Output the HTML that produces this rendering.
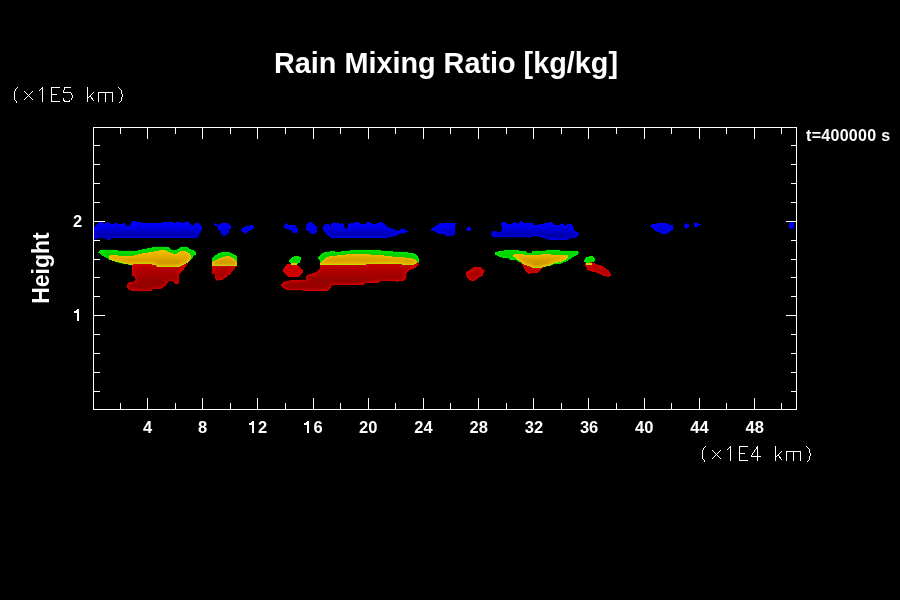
<!DOCTYPE html>
<html><head><meta charset="utf-8">
<style>
html,body{margin:0;padding:0;background:#000;width:900px;height:600px;overflow:hidden}
svg{position:absolute;left:0;top:0;will-change:transform}
.t{font-family:"Liberation Sans",sans-serif;font-weight:bold;fill:#fff}
</style></head><body>
<svg width="900" height="600" viewBox="0 0 900 600">
<rect width="900" height="600" fill="#000"/>
<g id="data">
<defs>
<filter id="inner" x="-20%" y="-50%" width="140%" height="200%"><feMorphology operator="erode" radius="1" in="SourceGraphic"/><feGaussianBlur stdDeviation="1.6"/></filter>
<linearGradient id="bg" gradientUnits="userSpaceOnUse" x1="0" y1="222" x2="0" y2="238"><stop offset="0" stop-color="#0000c0" stop-opacity="0"/><stop offset="0.85" stop-color="#00009c" stop-opacity="1"/></linearGradient>
<linearGradient id="rg" gradientUnits="userSpaceOnUse" x1="0" y1="263" x2="0" y2="286"><stop offset="0" stop-color="#a00000" stop-opacity="0.45"/><stop offset="0.7" stop-color="#960000" stop-opacity="1"/></linearGradient>
<linearGradient id="yg" gradientUnits="userSpaceOnUse" x1="0" y1="250" x2="0" y2="266"><stop offset="0" stop-color="#c89400" stop-opacity="0"/><stop offset="0.8" stop-color="#c08c00" stop-opacity="0.85"/></linearGradient>
</defs>
<path fill="#0000ff" shape-rendering="crispEdges" d="M94.0 227.0 L96.3 225.0 L99.7 222.3 L103.0 222.0 L104.3 223.7 L107.0 222.3 L109.0 222.3 L111.0 224.0 L115.0 223.3 L122.3 224.0 L123.7 222.3 L125.7 224.0 L126.3 226.0 L129.7 226.0 L131.7 222.0 L133.0 221.0 L135.7 221.0 L137.0 222.3 L141.7 222.3 L143.7 223.0 L162.0 223.0 L162.3 222.0 L170.0 222.0 L171.0 221.0 L172.0 222.0 L175.3 223.0 L177.3 222.0 L180.7 222.0 L182.0 223.0 L186.0 222.0 L187.3 221.0 L188.7 222.7 L190.7 224.3 L193.7 226.0 L194.7 223.7 L196.7 223.0 L199.3 223.7 L201.7 226.3 L201.7 229.0 L200.7 232.0 L199.3 233.3 L198.7 235.7 L196.0 238.0 L111.7 238.0 L109.7 239.8 L107.3 239.8 L106.3 238.0 L94.0 238.7Z M214.1 224.4 L215.5 223.0 L216.9 224.9 L219.9 224.4 L222.2 223.0 L227.7 223.0 L229.4 224.9 L230.8 225.2 L230.8 228.6 L228.8 229.1 L228.6 233.0 L226.6 235.2 L223.6 235.8 L221.3 233.6 L221.3 231.9 L218.3 229.7 L218.3 226.9 L214.9 225.8Z M241.1 229.7 L243.0 227.4 L245.2 226.1 L253.0 225.2 L254.9 226.9 L253.3 228.8 L249.1 230.8 L245.8 233.8 L243.6 232.4 L241.3 230.8Z M284.0 226.4 L285.1 224.4 L286.4 222.9 L287.3 224.2 L288.9 224.9 L294.7 225.1 L296.2 226.7 L298.0 228.4 L298.0 231.3 L296.7 232.9 L293.3 232.9 L290.4 230.4 L288.9 229.1 L285.1 228.9Z M306.0 225.1 L308.0 223.1 L310.2 222.0 L312.0 222.2 L314.2 224.9 L316.9 226.2 L316.9 231.8 L314.7 233.8 L311.6 233.8 L308.9 231.8 L306.7 230.0 L306.0 228.7Z M323.0 226.3 L324.1 225.2 L326.3 224.1 L329.1 224.4 L330.5 226.9 L331.3 224.1 L333.3 222.2 L336.3 223.3 L340.8 223.6 L341.9 223.0 L343.6 224.1 L344.1 227.4 L346.3 229.1 L348.0 228.0 L348.6 223.6 L354.7 223.0 L355.8 222.2 L359.1 222.2 L359.7 223.6 L365.8 223.6 L367.8 222.2 L370.0 222.4 L372.2 223.8 L377.2 223.6 L379.4 222.2 L382.2 222.4 L384.4 224.1 L388.3 227.4 L391.7 228.8 L395.0 229.9 L398.9 231.3 L400.0 229.7 L402.2 228.3 L404.4 229.4 L407.8 231.3 L406.1 232.7 L403.9 233.8 L401.7 233.0 L398.9 234.1 L396.7 235.8 L386.1 237.6 L331.3 237.6 L327.4 234.7 L325.2 233.0 L323.0 228.6Z M431.1 229.4 L433.6 227.2 L435.8 225.8 L438.3 224.1 L440.5 223.0 L443.0 223.0 L443.6 223.8 L444.4 223.0 L455.8 223.0 L455.8 224.7 L454.9 225.5 L454.9 233.6 L453.0 235.8 L446.3 235.8 L444.7 233.8 L438.3 233.6 L436.9 231.9 L434.1 231.3 L431.3 230.5Z M466.1 229.4 L468.6 226.1 L471.1 228.0 L470.2 230.5 L467.4 231.1Z M491.1 234.3 L491.9 232.4 L493.6 231.0 L496.3 231.3 L498.6 232.7 L500.5 232.1 L501.9 231.0 L501.3 223.5 L502.4 222.1 L505.2 222.1 L507.4 223.5 L511.9 223.8 L513.6 222.7 L515.8 222.1 L518.6 224.1 L520.2 221.3 L521.9 221.3 L523.6 222.7 L533.0 222.9 L535.0 225.2 L541.1 224.1 L547.2 222.9 L551.1 221.8 L553.9 224.6 L560.0 224.6 L562.5 222.9 L565.3 226.0 L567.2 224.1 L571.1 224.1 L573.3 226.0 L573.9 230.7 L576.1 231.3 L578.9 233.5 L578.9 235.2 L576.1 237.4 L569.4 237.9 L567.8 239.6 L548.3 239.6 L544.4 238.2 L540.6 237.1 L535.8 236.0 L533.6 236.3 L531.9 237.4 L493.0 237.4Z M650.0 225.7 L652.7 224.3 L658.0 223.3 L666.0 223.3 L670.0 224.7 L674.0 225.3 L673.3 226.7 L673.0 229.3 L669.3 232.0 L666.7 233.7 L661.3 233.7 L659.3 232.0 L656.0 231.3 L652.0 228.0Z M684.0 225.3 L686.0 223.0 L688.7 224.0 L689.0 227.0 L686.3 228.7 L684.3 227.0Z M694.0 223.3 L698.0 223.3 L698.7 224.3 L701.0 224.3 L701.0 225.0 L698.7 225.7 L698.0 226.7 L694.0 226.7Z M789.0 223.3 L790.0 222.0 L793.0 222.0 L794.0 224.0 L794.0 226.7 L792.7 228.8 L790.0 228.8 L789.0 227.3Z"/>
<path fill="url(#bg)" filter="url(#inner)" d="M94.0 227.0 L96.3 225.0 L99.7 222.3 L103.0 222.0 L104.3 223.7 L107.0 222.3 L109.0 222.3 L111.0 224.0 L115.0 223.3 L122.3 224.0 L123.7 222.3 L125.7 224.0 L126.3 226.0 L129.7 226.0 L131.7 222.0 L133.0 221.0 L135.7 221.0 L137.0 222.3 L141.7 222.3 L143.7 223.0 L162.0 223.0 L162.3 222.0 L170.0 222.0 L171.0 221.0 L172.0 222.0 L175.3 223.0 L177.3 222.0 L180.7 222.0 L182.0 223.0 L186.0 222.0 L187.3 221.0 L188.7 222.7 L190.7 224.3 L193.7 226.0 L194.7 223.7 L196.7 223.0 L199.3 223.7 L201.7 226.3 L201.7 229.0 L200.7 232.0 L199.3 233.3 L198.7 235.7 L196.0 238.0 L111.7 238.0 L109.7 239.8 L107.3 239.8 L106.3 238.0 L94.0 238.7Z M214.1 224.4 L215.5 223.0 L216.9 224.9 L219.9 224.4 L222.2 223.0 L227.7 223.0 L229.4 224.9 L230.8 225.2 L230.8 228.6 L228.8 229.1 L228.6 233.0 L226.6 235.2 L223.6 235.8 L221.3 233.6 L221.3 231.9 L218.3 229.7 L218.3 226.9 L214.9 225.8Z M241.1 229.7 L243.0 227.4 L245.2 226.1 L253.0 225.2 L254.9 226.9 L253.3 228.8 L249.1 230.8 L245.8 233.8 L243.6 232.4 L241.3 230.8Z M284.0 226.4 L285.1 224.4 L286.4 222.9 L287.3 224.2 L288.9 224.9 L294.7 225.1 L296.2 226.7 L298.0 228.4 L298.0 231.3 L296.7 232.9 L293.3 232.9 L290.4 230.4 L288.9 229.1 L285.1 228.9Z M306.0 225.1 L308.0 223.1 L310.2 222.0 L312.0 222.2 L314.2 224.9 L316.9 226.2 L316.9 231.8 L314.7 233.8 L311.6 233.8 L308.9 231.8 L306.7 230.0 L306.0 228.7Z M323.0 226.3 L324.1 225.2 L326.3 224.1 L329.1 224.4 L330.5 226.9 L331.3 224.1 L333.3 222.2 L336.3 223.3 L340.8 223.6 L341.9 223.0 L343.6 224.1 L344.1 227.4 L346.3 229.1 L348.0 228.0 L348.6 223.6 L354.7 223.0 L355.8 222.2 L359.1 222.2 L359.7 223.6 L365.8 223.6 L367.8 222.2 L370.0 222.4 L372.2 223.8 L377.2 223.6 L379.4 222.2 L382.2 222.4 L384.4 224.1 L388.3 227.4 L391.7 228.8 L395.0 229.9 L398.9 231.3 L400.0 229.7 L402.2 228.3 L404.4 229.4 L407.8 231.3 L406.1 232.7 L403.9 233.8 L401.7 233.0 L398.9 234.1 L396.7 235.8 L386.1 237.6 L331.3 237.6 L327.4 234.7 L325.2 233.0 L323.0 228.6Z M431.1 229.4 L433.6 227.2 L435.8 225.8 L438.3 224.1 L440.5 223.0 L443.0 223.0 L443.6 223.8 L444.4 223.0 L455.8 223.0 L455.8 224.7 L454.9 225.5 L454.9 233.6 L453.0 235.8 L446.3 235.8 L444.7 233.8 L438.3 233.6 L436.9 231.9 L434.1 231.3 L431.3 230.5Z M466.1 229.4 L468.6 226.1 L471.1 228.0 L470.2 230.5 L467.4 231.1Z M491.1 234.3 L491.9 232.4 L493.6 231.0 L496.3 231.3 L498.6 232.7 L500.5 232.1 L501.9 231.0 L501.3 223.5 L502.4 222.1 L505.2 222.1 L507.4 223.5 L511.9 223.8 L513.6 222.7 L515.8 222.1 L518.6 224.1 L520.2 221.3 L521.9 221.3 L523.6 222.7 L533.0 222.9 L535.0 225.2 L541.1 224.1 L547.2 222.9 L551.1 221.8 L553.9 224.6 L560.0 224.6 L562.5 222.9 L565.3 226.0 L567.2 224.1 L571.1 224.1 L573.3 226.0 L573.9 230.7 L576.1 231.3 L578.9 233.5 L578.9 235.2 L576.1 237.4 L569.4 237.9 L567.8 239.6 L548.3 239.6 L544.4 238.2 L540.6 237.1 L535.8 236.0 L533.6 236.3 L531.9 237.4 L493.0 237.4Z M650.0 225.7 L652.7 224.3 L658.0 223.3 L666.0 223.3 L670.0 224.7 L674.0 225.3 L673.3 226.7 L673.0 229.3 L669.3 232.0 L666.7 233.7 L661.3 233.7 L659.3 232.0 L656.0 231.3 L652.0 228.0Z M684.0 225.3 L686.0 223.0 L688.7 224.0 L689.0 227.0 L686.3 228.7 L684.3 227.0Z M694.0 223.3 L698.0 223.3 L698.7 224.3 L701.0 224.3 L701.0 225.0 L698.7 225.7 L698.0 226.7 L694.0 226.7Z M789.0 223.3 L790.0 222.0 L793.0 222.0 L794.0 224.0 L794.0 226.7 L792.7 228.8 L790.0 228.8 L789.0 227.3Z"/>
<path fill="#00f000" shape-rendering="crispEdges" d="M98.0 252.3 L100.0 250.0 L117.7 250.0 L118.3 251.0 L137.7 251.0 L139.0 250.0 L143.0 249.3 L149.0 248.0 L154.0 247.0 L168.0 247.0 L170.0 248.3 L172.0 250.0 L176.7 250.0 L180.0 247.7 L181.3 247.0 L186.7 247.0 L190.0 249.0 L193.3 250.3 L196.0 252.7 L196.0 254.3 L193.3 256.0 L192.0 258.7 L189.3 260.7 L187.3 262.0 L183.3 264.0 L155.0 264.0 L132.0 264.7 L129.7 264.7 L123.0 263.7 L115.0 261.7 L109.7 259.7 L106.3 257.7 L102.3 255.7Z M212.3 258.2 L215.6 255.2 L218.9 253.1 L223.4 251.9 L228.8 251.9 L231.2 253.1 L234.2 254.3 L236.9 256.1 L236.9 264.8 L212.3 264.8Z M289.1 260.6 L291.2 258.3 L294.0 256.2 L298.7 256.0 L300.8 257.4 L300.8 259.7 L299.6 262.7 L297.3 263.9 L291.2 263.9 L289.3 261.8Z M317.9 257.8 L322.1 253.0 L325.1 252.1 L333.2 251.2 L336.8 251.8 L345.2 251.2 L353.0 250.0 L377.7 250.2 L388.7 251.3 L405.6 252.1 L412.9 253.2 L416.6 255.0 L418.8 258.3 L418.8 263.0 L320.0 263.5 L320.0 260.2 L317.9 258.4Z M494.8 252.5 L499.1 251.1 L507.3 250.2 L518.6 250.2 L520.3 251.4 L526.0 251.4 L526.6 252.5 L531.7 252.5 L532.2 251.1 L545.9 251.1 L546.2 250.0 L559.8 250.0 L560.4 251.1 L577.1 251.1 L578.8 252.5 L577.7 254.8 L574.3 256.2 L571.4 258.2 L566.9 261.0 L560.7 263.6 L553.3 264.4 L549.9 265.8 L543.7 266.4 L542.0 267.2 L534.0 267.8 L528.8 265.5 L523.2 263.6 L520.9 262.1 L518.6 261.6 L516.4 259.9 L509.6 259.6 L508.4 258.2 L500.5 257.3 L497.7 255.9 L494.8 254.5Z M584.0 260.6 L585.6 257.8 L589.3 256.2 L593.1 256.4 L594.9 257.8 L594.9 260.4 L593.5 261.8 L590.7 262.7 L586.1 262.7 L584.4 261.6Z"/>
<path fill="#00c800" opacity="0.8" filter="url(#inner)" d="M98.0 252.3 L100.0 250.0 L117.7 250.0 L118.3 251.0 L137.7 251.0 L139.0 250.0 L143.0 249.3 L149.0 248.0 L154.0 247.0 L168.0 247.0 L170.0 248.3 L172.0 250.0 L176.7 250.0 L180.0 247.7 L181.3 247.0 L186.7 247.0 L190.0 249.0 L193.3 250.3 L196.0 252.7 L196.0 254.3 L193.3 256.0 L192.0 258.7 L189.3 260.7 L187.3 262.0 L183.3 264.0 L155.0 264.0 L132.0 264.7 L129.7 264.7 L123.0 263.7 L115.0 261.7 L109.7 259.7 L106.3 257.7 L102.3 255.7Z M212.3 258.2 L215.6 255.2 L218.9 253.1 L223.4 251.9 L228.8 251.9 L231.2 253.1 L234.2 254.3 L236.9 256.1 L236.9 264.8 L212.3 264.8Z M289.1 260.6 L291.2 258.3 L294.0 256.2 L298.7 256.0 L300.8 257.4 L300.8 259.7 L299.6 262.7 L297.3 263.9 L291.2 263.9 L289.3 261.8Z M317.9 257.8 L322.1 253.0 L325.1 252.1 L333.2 251.2 L336.8 251.8 L345.2 251.2 L353.0 250.0 L377.7 250.2 L388.7 251.3 L405.6 252.1 L412.9 253.2 L416.6 255.0 L418.8 258.3 L418.8 263.0 L320.0 263.5 L320.0 260.2 L317.9 258.4Z M494.8 252.5 L499.1 251.1 L507.3 250.2 L518.6 250.2 L520.3 251.4 L526.0 251.4 L526.6 252.5 L531.7 252.5 L532.2 251.1 L545.9 251.1 L546.2 250.0 L559.8 250.0 L560.4 251.1 L577.1 251.1 L578.8 252.5 L577.7 254.8 L574.3 256.2 L571.4 258.2 L566.9 261.0 L560.7 263.6 L553.3 264.4 L549.9 265.8 L543.7 266.4 L542.0 267.2 L534.0 267.8 L528.8 265.5 L523.2 263.6 L520.9 262.1 L518.6 261.6 L516.4 259.9 L509.6 259.6 L508.4 258.2 L500.5 257.3 L497.7 255.9 L494.8 254.5Z M584.0 260.6 L585.6 257.8 L589.3 256.2 L593.1 256.4 L594.9 257.8 L594.9 260.4 L593.5 261.8 L590.7 262.7 L586.1 262.7 L584.4 261.6Z"/>
<path fill="#e00000" shape-rendering="crispEdges" d="M132.4 263.9 L155.0 263.5 L157.0 265.6 L179.3 265.6 L183.5 264.0 L187.2 263.9 L189.5 260.8 L184.9 267.8 L181.8 271.7 L179.0 274.8 L178.7 283.3 L176.3 284.1 L174.0 282.9 L172.4 281.0 L168.5 281.0 L167.8 282.9 L165.4 285.7 L162.3 288.4 L152.2 289.2 L151.4 291.1 L139.0 291.5 L129.7 290.3 L127.3 288.0 L127.3 284.1 L129.7 282.2 L134.3 281.4 L135.9 279.8 L135.1 277.1 L132.4 275.6Z M212.3 264.8 L236.9 265.1 L235.4 267.2 L234.2 269.0 L231.8 272.0 L230.0 274.4 L225.8 277.4 L222.2 279.8 L217.4 280.7 L215.3 279.2 L215.0 274.4 L212.3 273.8Z M284.2 266.9 L285.6 265.5 L288.4 263.9 L295.9 263.9 L298.7 266.0 L301.9 269.3 L302.9 270.7 L302.9 273.0 L300.5 274.9 L298.7 276.5 L288.4 276.5 L286.1 274.9 L283.3 271.6 L283.3 270.2Z M320.0 263.3 L418.1 262.0 L418.8 264.9 L415.9 267.5 L410.0 270.0 L407.8 271.9 L406.0 274.8 L406.0 278.5 L403.4 280.7 L398.3 281.4 L396.8 282.5 L395.0 281.0 L379.9 281.0 L378.8 282.5 L366.0 283.0 L364.0 284.7 L332.0 285.0 L330.7 287.3 L328.0 290.7 L288.7 290.4 L284.2 288.7 L281.1 286.0 L281.6 283.8 L286.0 280.7 L306.0 279.8 L306.4 276.2 L309.1 274.4 L313.6 273.1 L317.1 271.3 L320.2 268.7Z M466.0 272.3 L467.9 271.0 L471.9 268.4 L474.1 267.1 L480.0 267.1 L482.5 268.8 L484.9 270.6 L483.6 272.6 L482.9 275.6 L479.6 277.4 L476.7 279.2 L474.5 280.7 L470.8 280.5 L468.2 278.5 L466.0 275.6Z M520.9 262.1 L523.2 263.6 L528.8 265.5 L533.4 267.8 L542.0 267.2 L544.8 266.4 L541.4 268.9 L540.2 270.6 L538.5 272.3 L536.2 272.9 L531.1 272.9 L528.8 274.6 L526.0 271.8 L524.3 268.9 L521.5 263.3Z M585.1 263.2 L591.7 262.3 L594.0 263.2 L596.3 264.4 L600.1 265.3 L603.3 266.9 L606.1 268.8 L608.9 270.7 L610.3 273.5 L611.7 275.3 L608.9 276.7 L605.2 276.3 L601.0 274.4 L598.2 273.2 L594.0 272.1 L589.8 270.7 L587.0 269.3 L585.1 265.5Z"/>
<path fill="url(#rg)" filter="url(#inner)" d="M132.4 263.9 L155.0 263.5 L157.0 265.6 L179.3 265.6 L183.5 264.0 L187.2 263.9 L189.5 260.8 L184.9 267.8 L181.8 271.7 L179.0 274.8 L178.7 283.3 L176.3 284.1 L174.0 282.9 L172.4 281.0 L168.5 281.0 L167.8 282.9 L165.4 285.7 L162.3 288.4 L152.2 289.2 L151.4 291.1 L139.0 291.5 L129.7 290.3 L127.3 288.0 L127.3 284.1 L129.7 282.2 L134.3 281.4 L135.9 279.8 L135.1 277.1 L132.4 275.6Z M212.3 264.8 L236.9 265.1 L235.4 267.2 L234.2 269.0 L231.8 272.0 L230.0 274.4 L225.8 277.4 L222.2 279.8 L217.4 280.7 L215.3 279.2 L215.0 274.4 L212.3 273.8Z M320.0 263.3 L418.1 262.0 L418.8 264.9 L415.9 267.5 L410.0 270.0 L407.8 271.9 L406.0 274.8 L406.0 278.5 L403.4 280.7 L398.3 281.4 L396.8 282.5 L395.0 281.0 L379.9 281.0 L378.8 282.5 L366.0 283.0 L364.0 284.7 L332.0 285.0 L330.7 287.3 L328.0 290.7 L288.7 290.4 L284.2 288.7 L281.1 286.0 L281.6 283.8 L286.0 280.7 L306.0 279.8 L306.4 276.2 L309.1 274.4 L313.6 273.1 L317.1 271.3 L320.2 268.7Z M466.0 272.3 L467.9 271.0 L471.9 268.4 L474.1 267.1 L480.0 267.1 L482.5 268.8 L484.9 270.6 L483.6 272.6 L482.9 275.6 L479.6 277.4 L476.7 279.2 L474.5 280.7 L470.8 280.5 L468.2 278.5 L466.0 275.6Z M520.9 262.1 L523.2 263.6 L528.8 265.5 L533.4 267.8 L542.0 267.2 L544.8 266.4 L541.4 268.9 L540.2 270.6 L538.5 272.3 L536.2 272.9 L531.1 272.9 L528.8 274.6 L526.0 271.8 L524.3 268.9 L521.5 263.3Z M585.1 263.2 L591.7 262.3 L594.0 263.2 L596.3 264.4 L600.1 265.3 L603.3 266.9 L606.1 268.8 L608.9 270.7 L610.3 273.5 L611.7 275.3 L608.9 276.7 L605.2 276.3 L601.0 274.4 L598.2 273.2 L594.0 272.1 L589.8 270.7 L587.0 269.3 L585.1 265.5Z"/>
<path fill="#b80000" opacity="0.5" filter="url(#inner)" d="M284.2 266.9 L285.6 265.5 L288.4 263.9 L295.9 263.9 L298.7 266.0 L301.9 269.3 L302.9 270.7 L302.9 273.0 L300.5 274.9 L298.7 276.5 L288.4 276.5 L286.1 274.9 L283.3 271.6 L283.3 270.2Z"/>
<path fill="#c0e000" shape-rendering="crispEdges" transform="translate(0,1)" d="M109.0 256.0 L110.3 255.0 L117.7 255.0 L119.0 256.0 L132.3 256.0 L138.3 254.3 L144.3 253.0 L150.0 252.3 L160.0 250.3 L166.0 250.3 L171.3 253.3 L176.0 254.0 L180.0 251.3 L186.0 251.3 L190.0 253.3 L191.0 256.0 L190.0 259.3 L188.7 261.3 L186.0 262.7 L183.3 264.0 L179.3 265.7 L156.7 265.7 L155.3 264.0 L150.0 263.3 L141.7 263.0 L129.7 263.7 L121.7 262.0 L113.0 260.0 L109.0 257.7Z M212.3 262.4 L215.0 260.3 L220.4 257.9 L225.8 256.1 L229.4 256.1 L233.6 258.2 L236.0 260.6 L236.9 262.4 L236.9 265.4 L212.3 265.4Z M291.2 263.0 L297.3 263.0 L297.3 264.2 L291.2 264.2Z M320.8 262.3 L326.0 257.5 L330.8 256.0 L342.2 255.1 L350.0 253.9 L366.0 254.3 L380.7 255.0 L391.7 256.5 L406.3 257.6 L413.7 258.7 L416.6 261.2 L416.6 262.0 L412.9 263.8 L402.7 263.8 L401.2 262.5 L373.3 263.0 L366.0 263.5 L320.5 263.5Z M513.0 255.6 L514.7 254.2 L523.7 254.2 L524.9 255.1 L538.0 255.1 L542.0 254.2 L568.6 255.1 L567.5 257.0 L564.1 259.6 L560.7 261.0 L554.4 262.1 L549.3 265.0 L543.7 265.8 L540.3 267.2 L534.0 267.5 L529.4 265.0 L523.7 263.6 L520.9 261.6 L516.4 257.6Z M586.0 262.6 L591.5 262.6 L591.5 263.6 L586.0 263.6Z"/>
<path fill="#f8bc00" shape-rendering="crispEdges" d="M109.0 256.0 L110.3 255.0 L117.7 255.0 L119.0 256.0 L132.3 256.0 L138.3 254.3 L144.3 253.0 L150.0 252.3 L160.0 250.3 L166.0 250.3 L171.3 253.3 L176.0 254.0 L180.0 251.3 L186.0 251.3 L190.0 253.3 L191.0 256.0 L190.0 259.3 L188.7 261.3 L186.0 262.7 L183.3 264.0 L179.3 265.7 L156.7 265.7 L155.3 264.0 L150.0 263.3 L141.7 263.0 L129.7 263.7 L121.7 262.0 L113.0 260.0 L109.0 257.7Z M212.3 262.4 L215.0 260.3 L220.4 257.9 L225.8 256.1 L229.4 256.1 L233.6 258.2 L236.0 260.6 L236.9 262.4 L236.9 265.4 L212.3 265.4Z M291.2 263.0 L297.3 263.0 L297.3 264.2 L291.2 264.2Z M320.8 262.3 L326.0 257.5 L330.8 256.0 L342.2 255.1 L350.0 253.9 L366.0 254.3 L380.7 255.0 L391.7 256.5 L406.3 257.6 L413.7 258.7 L416.6 261.2 L416.6 262.0 L412.9 263.8 L402.7 263.8 L401.2 262.5 L373.3 263.0 L366.0 263.5 L320.5 263.5Z M513.0 255.6 L514.7 254.2 L523.7 254.2 L524.9 255.1 L538.0 255.1 L542.0 254.2 L568.6 255.1 L567.5 257.0 L564.1 259.6 L560.7 261.0 L554.4 262.1 L549.3 265.0 L543.7 265.8 L540.3 267.2 L534.0 267.5 L529.4 265.0 L523.7 263.6 L520.9 261.6 L516.4 257.6Z M586.0 262.6 L591.5 262.6 L591.5 263.6 L586.0 263.6Z"/>
<path fill="url(#yg)" filter="url(#inner)" d="M109.0 256.0 L110.3 255.0 L117.7 255.0 L119.0 256.0 L132.3 256.0 L138.3 254.3 L144.3 253.0 L150.0 252.3 L160.0 250.3 L166.0 250.3 L171.3 253.3 L176.0 254.0 L180.0 251.3 L186.0 251.3 L190.0 253.3 L191.0 256.0 L190.0 259.3 L188.7 261.3 L186.0 262.7 L183.3 264.0 L179.3 265.7 L156.7 265.7 L155.3 264.0 L150.0 263.3 L141.7 263.0 L129.7 263.7 L121.7 262.0 L113.0 260.0 L109.0 257.7Z M212.3 262.4 L215.0 260.3 L220.4 257.9 L225.8 256.1 L229.4 256.1 L233.6 258.2 L236.0 260.6 L236.9 262.4 L236.9 265.4 L212.3 265.4Z M291.2 263.0 L297.3 263.0 L297.3 264.2 L291.2 264.2Z M320.8 262.3 L326.0 257.5 L330.8 256.0 L342.2 255.1 L350.0 253.9 L366.0 254.3 L380.7 255.0 L391.7 256.5 L406.3 257.6 L413.7 258.7 L416.6 261.2 L416.6 262.0 L412.9 263.8 L402.7 263.8 L401.2 262.5 L373.3 263.0 L366.0 263.5 L320.5 263.5Z M513.0 255.6 L514.7 254.2 L523.7 254.2 L524.9 255.1 L538.0 255.1 L542.0 254.2 L568.6 255.1 L567.5 257.0 L564.1 259.6 L560.7 261.0 L554.4 262.1 L549.3 265.0 L543.7 265.8 L540.3 267.2 L534.0 267.5 L529.4 265.0 L523.7 263.6 L520.9 261.6 L516.4 257.6Z M586.0 262.6 L591.5 262.6 L591.5 263.6 L586.0 263.6Z"/>
</g>
<g stroke="#fff" stroke-width="1" fill="none" shape-rendering="crispEdges">
<path d="M93.5 127.5H796.5V409.5H93.5Z"/>
<path d="M120.5 403V409M120.5 128V134"/>
<path d="M147.5 398V409M147.5 128V139"/>
<path d="M175.5 403V409M175.5 128V134"/>
<path d="M202.5 398V409M202.5 128V139"/>
<path d="M230.5 403V409M230.5 128V134"/>
<path d="M257.5 398V409M257.5 128V139"/>
<path d="M285.5 403V409M285.5 128V134"/>
<path d="M313.5 398V409M313.5 128V139"/>
<path d="M340.5 403V409M340.5 128V134"/>
<path d="M368.5 398V409M368.5 128V139"/>
<path d="M395.5 403V409M395.5 128V134"/>
<path d="M423.5 398V409M423.5 128V139"/>
<path d="M450.5 403V409M450.5 128V134"/>
<path d="M478.5 398V409M478.5 128V139"/>
<path d="M506.5 403V409M506.5 128V134"/>
<path d="M533.5 398V409M533.5 128V139"/>
<path d="M561.5 403V409M561.5 128V134"/>
<path d="M588.5 398V409M588.5 128V139"/>
<path d="M616.5 403V409M616.5 128V134"/>
<path d="M644.5 398V409M644.5 128V139"/>
<path d="M671.5 403V409M671.5 128V134"/>
<path d="M699.5 398V409M699.5 128V139"/>
<path d="M726.5 403V409M726.5 128V134"/>
<path d="M754.5 398V409M754.5 128V139"/>
<path d="M781.5 403V409M781.5 128V134"/>
<path d="M94 391.5H100M791 391.5H796"/>
<path d="M94 372.5H100M791 372.5H796"/>
<path d="M94 353.5H100M791 353.5H796"/>
<path d="M94 334.5H100M791 334.5H796"/>
<path d="M94 315.5H105M786 315.5H796"/>
<path d="M94 296.5H100M791 296.5H796"/>
<path d="M94 277.5H100M791 277.5H796"/>
<path d="M94 259.5H100M791 259.5H796"/>
<path d="M94 240.5H100M791 240.5H796"/>
<path d="M94 221.5H105M786 221.5H796"/>
<path d="M94 202.5H100M791 202.5H796"/>
<path d="M94 183.5H100M791 183.5H796"/>
<path d="M94 164.5H100M791 164.5H796"/>
<path d="M94 145.5H100M791 145.5H796"/>
</g>
<g stroke="#fff" stroke-width="1" fill="none" stroke-linecap="square" shape-rendering="crispEdges">
<path transform="translate(0,0)" d="M17.5 87.5 L16.5 88.5 L15.5 89.5 L15.5 90.5 L14.5 91.5 L14.5 99.5 L15.5 100.5 L16.5 101.5 L16.5 102.5 M24.5 91.5 L32.5 99.5 M32.5 91.5 L24.5 99.5 M39.5 90.5 L42.5 87.5 L42.5 101.5 M59.5 87.5 L51.5 87.5 L51.5 101.5 L59.5 101.5 M51.5 94.5 L56.5 94.5 M70.5 87.5 L64.5 87.5 L64.5 89.5 L63.5 90.5 L63.5 92.5 L70.5 92.5 L72.5 95.5 L72.5 97.5 L70.5 100.5 L68.5 101.5 L65.5 101.5 L63.5 100.5 L63.5 98.5 M87.5 87.5 L87.5 101.5 M93.5 92.5 L88.5 97.5 M90.5 96.5 L93.5 100.5 M98.5 101.5 L98.5 92.5 L112.5 92.5 L112.5 101.5 M105.5 92.5 L105.5 101.5 M118.5 87.5 L119.5 88.5 L120.5 89.5 L121.5 90.5 L121.5 93.5 L122.5 94.5 L122.5 96.5 L121.5 97.5 L121.5 100.5 L120.5 101.5 L119.5 102.5"/>
<path transform="translate(688,359)" d="M17.5 87.5 L16.5 88.5 L15.5 89.5 L15.5 90.5 L14.5 91.5 L14.5 99.5 L15.5 100.5 L16.5 101.5 L16.5 102.5 M24.5 91.5 L32.5 99.5 M32.5 91.5 L24.5 99.5 M39.5 90.5 L42.5 87.5 L42.5 101.5 M59.5 87.5 L51.5 87.5 L51.5 101.5 L59.5 101.5 M51.5 94.5 L56.5 94.5 M69.5 101.5 L69.5 87.5 L63.5 96.5 L63.5 97.5 L72.5 97.5 M87.5 87.5 L87.5 101.5 M93.5 92.5 L88.5 97.5 M90.5 96.5 L93.5 100.5 M98.5 101.5 L98.5 92.5 L112.5 92.5 L112.5 101.5 M105.5 92.5 L105.5 101.5 M118.5 87.5 L119.5 88.5 L120.5 89.5 L121.5 90.5 L121.5 93.5 L122.5 94.5 L122.5 96.5 L121.5 97.5 L121.5 100.5 L120.5 101.5 L119.5 102.5"/>
</g>
<text class="t" x="446" y="73" font-size="28.8" text-anchor="middle">Rain Mixing Ratio [kg/kg]</text>
<text class="t" x="806" y="141" font-size="16" letter-spacing="0.3">t=400000 s</text>
<text class="t" transform="translate(49,268) rotate(-90)" font-size="23" text-anchor="middle">Height</text>
<text class="t" x="147.5" y="433" font-size="16.5" text-anchor="middle">4</text>
<text class="t" x="202.7" y="433" font-size="16.5" text-anchor="middle">8</text>
<path fill="#fff" d="M252 421h2v12h-2zM249 423h3v2h-3zM251 422h1v1h-1z"/>
<text class="t" x="262.5" y="433" font-size="16.5" text-anchor="middle">2</text>
<path fill="#fff" d="M307 421h2v12h-2zM304 423h3v2h-3zM306 422h1v1h-1z"/>
<text class="t" x="318" y="433" font-size="16.5" text-anchor="middle">6</text>
<text class="t" x="368.3" y="433" font-size="16.5" text-anchor="middle">20</text>
<text class="t" x="423.50000000000006" y="433" font-size="16.5" text-anchor="middle">24</text>
<text class="t" x="478.70000000000005" y="433" font-size="16.5" text-anchor="middle">28</text>
<text class="t" x="533.9" y="433" font-size="16.5" text-anchor="middle">32</text>
<text class="t" x="589.1" y="433" font-size="16.5" text-anchor="middle">36</text>
<text class="t" x="644.3" y="433" font-size="16.5" text-anchor="middle">40</text>
<text class="t" x="699.5" y="433" font-size="16.5" text-anchor="middle">44</text>
<text class="t" x="754.7" y="433" font-size="16.5" text-anchor="middle">48</text>
<text class="t" x="77.5" y="227" font-size="16.5" text-anchor="middle">2</text>
<path fill="#fff" d="M77 309h2v12h-2zM74 311h3v2h-3zM76 310h1v1h-1z"/>
</svg>
</body></html>
